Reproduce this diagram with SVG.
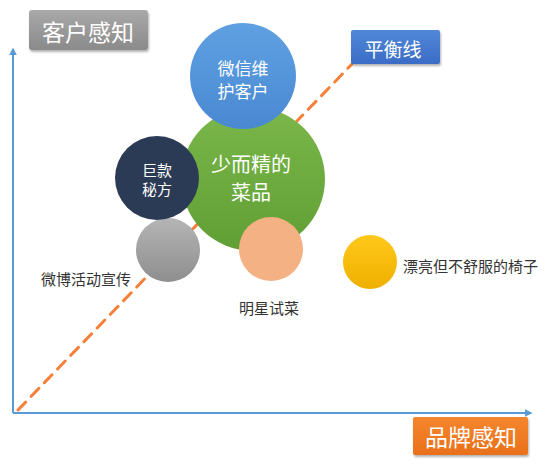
<svg xmlns="http://www.w3.org/2000/svg" width="560" height="476" viewBox="0 0 560 476">
<defs>
<linearGradient id="gBlue" x1="0" y1="0" x2="0" y2="1"><stop offset="0" stop-color="#5fa0e2"/><stop offset="1" stop-color="#4a89d2"/></linearGradient>
<linearGradient id="gGreen" x1="0" y1="0" x2="0" y2="1"><stop offset="0" stop-color="#7bb74a"/><stop offset="1" stop-color="#609f35"/></linearGradient>
<linearGradient id="gGray" x1="0" y1="0" x2="0" y2="1"><stop offset="0" stop-color="#b5b5b5"/><stop offset="1" stop-color="#8e8e8e"/></linearGradient>
<linearGradient id="gYellow" x1="0" y1="0" x2="0" y2="1"><stop offset="0" stop-color="#ffc81a"/><stop offset="1" stop-color="#efb000"/></linearGradient>
<linearGradient id="gBoxGray" x1="0" y1="0" x2="0" y2="1"><stop offset="0" stop-color="#a9a9a9"/><stop offset="1" stop-color="#8a8a8a"/></linearGradient>
<linearGradient id="gBoxBlue" x1="0" y1="0" x2="0" y2="1"><stop offset="0" stop-color="#5088d8"/><stop offset="1" stop-color="#3b6cc6"/></linearGradient>
<linearGradient id="gBoxOrange" x1="0" y1="0" x2="0" y2="1"><stop offset="0" stop-color="#f5862e"/><stop offset="1" stop-color="#e9701a"/></linearGradient>
<marker id="arr" viewBox="0 0 10 10" refX="8" refY="5" markerWidth="4" markerHeight="4" orient="auto"><path d="M0,0 L10,5 L0,10 z" fill="#5b9bd5"/></marker>
<filter id="sh" x="-10%" y="-10%" width="130%" height="140%"><feDropShadow dx="1" dy="2" stdDeviation="1.2" flood-color="#000" flood-opacity="0.3"/></filter>
</defs>
<style>
text{font-family:"Noto Sans CJK SC","Noto Sans",sans-serif;}
.w{fill:#ffffff;text-anchor:middle;dominant-baseline:central;}
.lbl{fill:#333333;font-size:15px;dominant-baseline:central;}
.axis{stroke:#5b9bd5;stroke-width:2;fill:none;}
</style>
<g id="connectors">
<path class="axis" d="M13,413 L13,49" marker-end="url(#arr)"/>
<path class="axis" d="M13,413 L531,413" marker-end="url(#arr)"/>
<path d="M18,410 L352,64" stroke="#f4803a" stroke-width="3" stroke-dasharray="11 8" stroke-linecap="round" fill="none"/>
</g>
<g id="node-y-axis-label">
<rect x="29" y="10" width="119" height="40" rx="3" fill="url(#gBoxGray)" filter="url(#sh)"/>
<text class="w" x="88" y="31" font-size="23" fill="#f2f2f2">客户感知</text>
</g>
<g id="node-balance">
<rect x="351" y="30" width="89" height="34" rx="2" fill="url(#gBoxBlue)" filter="url(#sh)"/>
<text class="w" x="393" y="48" font-size="19">平衡线</text>
</g>
<g id="node-x-axis-label">
<rect x="413" y="417" width="115" height="38" rx="2" fill="url(#gBoxOrange)" filter="url(#sh)"/>
<text class="w" x="471" y="436" font-size="23">品牌感知</text>
</g>
<g id="node-green">
<circle cx="253" cy="179" r="72" fill="url(#gGreen)"/>
<text class="w" x="251" y="163" font-size="20">少而精的</text>
<text class="w" x="251" y="191" font-size="20">菜品</text>
</g>
<g id="node-blue">
<circle cx="243" cy="76" r="53" fill="url(#gBlue)"/>
<text class="w" x="243" y="67" font-size="17">微信维</text>
<text class="w" x="243" y="90" font-size="17">护客户</text>
</g>
<g id="node-gray">
<circle cx="168" cy="250" r="32" fill="url(#gGray)"/>
<text class="lbl" x="41" y="278" font-size="14">微博活动宣传</text>
</g>
<g id="node-navy">
<circle cx="157" cy="178" r="42" fill="#2b3a55"/>
<text class="w" x="157" y="169" font-size="15">巨款</text>
<text class="w" x="157" y="188" font-size="15">秘方</text>
</g>
<g id="node-peach">
<circle cx="271" cy="249" r="32" fill="#f4b183"/>
<text class="lbl" x="239" y="307">明星试菜</text>
</g>
<g id="node-yellow">
<circle cx="370" cy="262" r="27" fill="url(#gYellow)"/>
<text class="lbl" x="403" y="265">漂亮但不舒服的椅子</text>
</g>
</svg>
